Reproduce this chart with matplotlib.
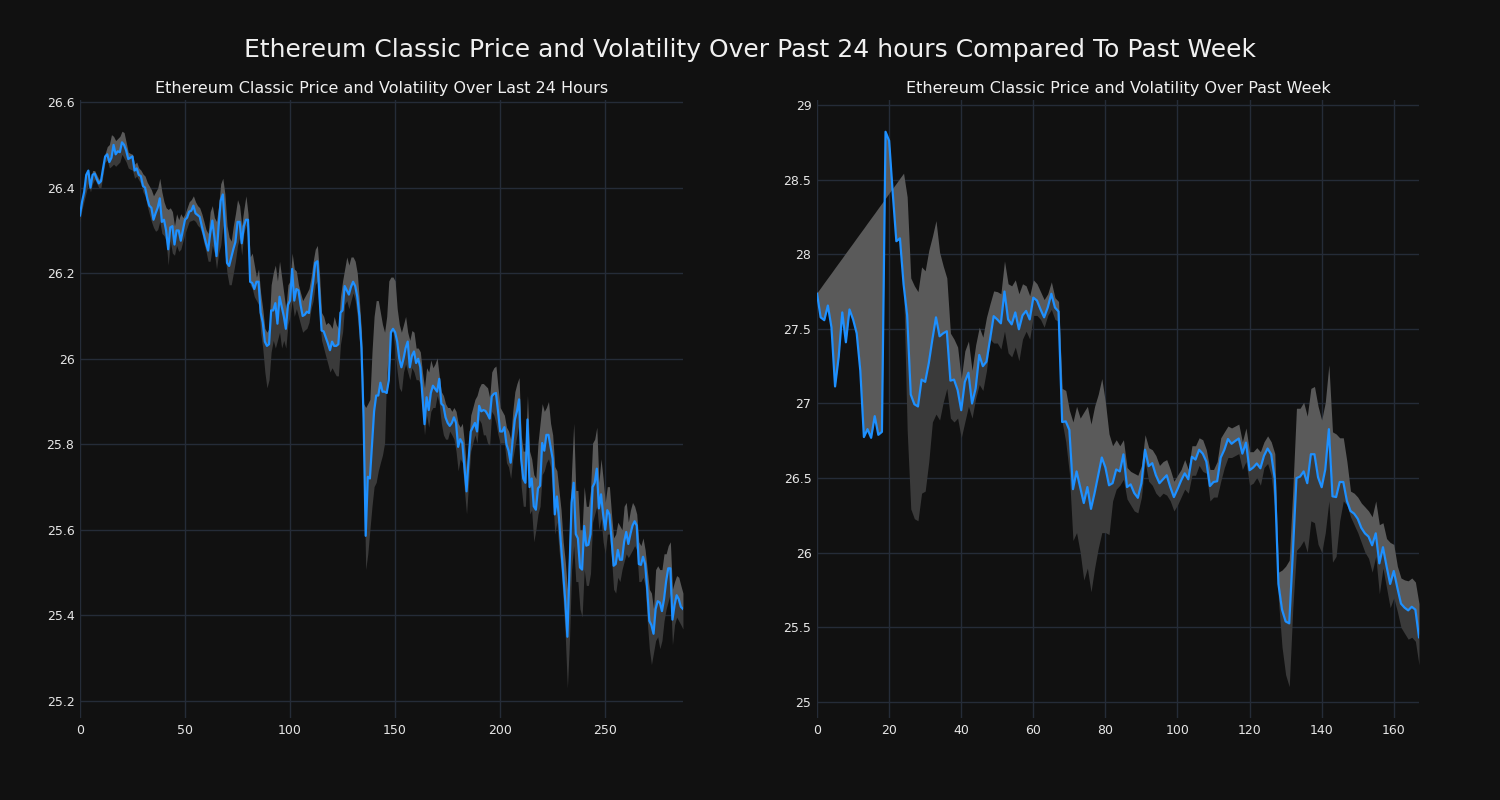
import numpy as np
import matplotlib
matplotlib.use('Agg')
import matplotlib.pyplot as plt
from matplotlib.ticker import FuncFormatter

# last 24 hours (5 min steps)
day_price = [
    26.335, 26.367, 26.39, 26.43, 26.44, 26.40, 26.43, 26.433, 26.42, 26.41,
    26.415, 26.445, 26.473, 26.478, 26.46, 26.47, 26.50, 26.478, 26.485, 26.483,
    26.506, 26.50, 26.487, 26.467, 26.47, 26.473, 26.44, 26.445, 26.43, 26.427,
    26.404, 26.40, 26.376, 26.358, 26.353, 26.325, 26.34, 26.353, 26.375, 26.32,
    26.325, 26.30, 26.256, 26.307, 26.31, 26.267, 26.30, 26.30, 26.276, 26.30,
    26.325, 26.33, 26.344, 26.346, 26.358, 26.34, 26.336, 26.332, 26.31, 26.29,
    26.27, 26.253, 26.293, 26.323, 26.284, 26.24, 26.31, 26.37, 26.384, 26.31,
    26.224, 26.217, 26.237, 26.256, 26.273, 26.32, 26.32, 26.27, 26.31, 26.325,
    26.325, 26.18, 26.177, 26.163, 26.18, 26.18, 26.108, 26.085, 26.04, 26.03,
    26.034, 26.113, 26.113, 26.13, 26.082, 26.145, 26.122, 26.10, 26.07, 26.126,
    26.136, 26.21, 26.136, 26.163, 26.16, 26.126, 26.10, 26.103, 26.11, 26.107,
    26.145, 26.18, 26.224, 26.228, 26.145, 26.066, 26.064, 26.05, 26.036, 26.02,
    26.04, 26.03, 26.03, 26.034, 26.108, 26.113, 26.17, 26.16, 26.15, 26.168,
    26.18, 26.17, 26.145, 26.10, 26.025, 25.86, 25.586, 25.724, 25.72, 25.80,
    25.877, 25.914, 25.914, 25.944, 25.923, 25.923, 25.92, 25.95, 26.062, 26.07,
    26.062, 26.04, 26.00, 25.98, 26.00, 26.025, 26.04, 25.98, 26.007, 26.017,
    25.99, 26.00, 25.98, 25.914, 25.847, 25.91, 25.88, 25.92, 25.937, 25.93,
    25.923, 25.953, 25.895, 25.89, 25.863, 25.85, 25.843, 25.85, 25.863, 25.85,
    25.794, 25.812, 25.803, 25.747, 25.69, 25.766, 25.83, 25.84, 25.85, 25.83,
    25.89, 25.877, 25.88, 25.878, 25.87, 25.86, 25.912, 25.918, 25.92, 25.877,
    25.83, 25.83, 25.84, 25.80, 25.785, 25.757, 25.812, 25.858, 25.877, 25.905,
    25.766, 25.72, 25.71, 25.858, 25.70, 25.72, 25.655, 25.647, 25.697, 25.703,
    25.803, 25.785, 25.822, 25.822, 25.794, 25.766, 25.636, 25.678, 25.627, 25.563,
    25.498, 25.433, 25.35, 25.507, 25.664, 25.71, 25.59, 25.58, 25.512, 25.507,
    25.609, 25.563, 25.565, 25.59, 25.70, 25.71, 25.743, 25.65, 25.683, 25.636,
    25.60, 25.646, 25.636, 25.58, 25.516, 25.52, 25.553, 25.53, 25.53, 25.572,
    25.595, 25.567, 25.59, 25.61, 25.62, 25.61, 25.52, 25.518, 25.537, 25.52,
    25.46, 25.387, 25.377, 25.357, 25.415, 25.433, 25.43, 25.41, 25.438, 25.48,
    25.51, 25.51, 25.39, 25.424, 25.447, 25.438, 25.42, 25.415,
]
day_upper = [
    26.34, 26.37, 26.39, 26.43, 26.44, 26.41, 26.44, 26.44, 26.43, 26.42,
    26.42, 26.45, 26.48, 26.496, 26.501, 26.524, 26.52, 26.51, 26.515, 26.52,
    26.532, 26.529, 26.506, 26.483, 26.48, 26.478, 26.455, 26.46, 26.446, 26.441,
    26.432, 26.427, 26.413, 26.404, 26.395, 26.381, 26.39, 26.399, 26.422, 26.39,
    26.367, 26.353, 26.349, 26.353, 26.344, 26.311, 26.339, 26.325, 26.339, 26.33,
    26.339, 26.353, 26.367, 26.372, 26.381, 26.367, 26.358, 26.353, 26.339, 26.321,
    26.302, 26.293, 26.344, 26.358, 26.33, 26.321, 26.358, 26.409, 26.422, 26.385,
    26.311, 26.284, 26.275, 26.311, 26.339, 26.372, 26.358, 26.311, 26.349, 26.381,
    26.339, 26.238, 26.247, 26.219, 26.191, 26.21, 26.154, 26.117, 26.071, 26.062,
    26.071, 26.173, 26.201, 26.219, 26.182, 26.228, 26.191, 26.154, 26.117, 26.173,
    26.182, 26.247, 26.21, 26.205, 26.173, 26.154, 26.136, 26.145, 26.154, 26.164,
    26.191, 26.228, 26.256, 26.265, 26.20, 26.108, 26.099, 26.08, 26.085, 26.08,
    26.071, 26.099, 26.08, 26.071, 26.145, 26.182, 26.21, 26.238, 26.219, 26.238,
    26.238, 26.228, 26.20, 26.136, 26.062, 25.895, 25.886, 25.895, 25.905, 26.016,
    26.099, 26.136, 26.136, 26.108, 26.08, 26.062, 26.099, 26.182, 26.191, 26.191,
    26.182, 26.117, 26.08, 26.062, 26.08, 26.099, 26.062, 26.043, 26.066, 26.062,
    26.025, 26.025, 26.016, 25.969, 25.932, 25.979, 25.969, 25.997, 25.979, 25.988,
    26.002, 25.96, 25.923, 25.914, 25.895, 25.886, 25.886, 25.877, 25.886, 25.877,
    25.849, 25.84, 25.849, 25.803, 25.738, 25.803, 25.868, 25.886, 25.905, 25.914,
    25.932, 25.942, 25.942, 25.937, 25.932, 25.909, 25.969, 25.979, 25.983, 25.932,
    25.886, 25.877, 25.868, 25.84, 25.831, 25.812, 25.877, 25.923, 25.942, 25.956,
    25.822, 25.784, 25.784, 25.914, 25.784, 25.766, 25.729, 25.72, 25.803, 25.849,
    25.895, 25.877, 25.886, 25.90, 25.849, 25.822, 25.748, 25.738, 25.692, 25.646,
    25.572, 25.526, 25.461, 25.60, 25.738, 25.849, 25.692, 25.692, 25.60, 25.60,
    25.701, 25.655, 25.655, 25.692, 25.803, 25.812, 25.84, 25.711, 25.766, 25.72,
    25.664, 25.701, 25.701, 25.637, 25.581, 25.59, 25.618, 25.609, 25.60, 25.655,
    25.664, 25.618, 25.646, 25.664, 25.655, 25.637, 25.572, 25.563, 25.581, 25.553,
    25.507, 25.461, 25.452, 25.415, 25.507, 25.516, 25.507, 25.507, 25.544, 25.544,
    25.563, 25.572, 25.461, 25.479, 25.493, 25.489, 25.47, 25.452,
]
day_lower = [
    26.32, 26.35, 26.37, 26.39, 26.41, 26.39, 26.41, 26.42, 26.41, 26.40,
    26.40, 26.43, 26.46, 26.464, 26.446, 26.45, 26.455, 26.45, 26.455, 26.46,
    26.478, 26.469, 26.46, 26.446, 26.443, 26.441, 26.422, 26.427, 26.418, 26.409,
    26.39, 26.381, 26.358, 26.339, 26.321, 26.307, 26.298, 26.302, 26.321, 26.293,
    26.288, 26.275, 26.219, 26.275, 26.247, 26.242, 26.265, 26.251, 26.256, 26.275,
    26.293, 26.307, 26.321, 26.323, 26.325, 26.321, 26.312, 26.307, 26.293, 26.27,
    26.251, 26.228, 26.228, 26.265, 26.247, 26.21, 26.247, 26.265, 26.312, 26.247,
    26.20, 26.173, 26.173, 26.20, 26.228, 26.265, 26.284, 26.242, 26.293, 26.312,
    26.275, 26.173, 26.164, 26.145, 26.136, 26.127, 26.062, 26.025, 25.969, 25.932,
    25.951, 26.016, 26.043, 26.025, 26.043, 26.062, 26.025, 26.043, 26.025, 26.08,
    26.099, 26.136, 26.099, 26.117, 26.099, 26.08, 26.062, 26.067, 26.071, 26.085,
    26.117, 26.136, 26.173, 26.182, 26.099, 26.043, 26.025, 26.006, 25.988, 25.969,
    25.979, 25.969, 25.96, 25.96, 26.034, 26.062, 26.127, 26.136, 26.117, 26.136,
    26.154, 26.136, 26.099, 26.043, 25.969, 25.784, 25.507, 25.544, 25.60, 25.655,
    25.701, 25.711, 25.738, 25.757, 25.775, 25.803, 25.969, 26.016, 26.062, 26.062,
    26.016, 25.969, 25.932, 25.923, 25.969, 25.988, 25.969, 25.951, 25.979, 25.969,
    25.951, 25.951, 25.942, 25.877, 25.822, 25.868, 25.84, 25.877, 25.886, 25.886,
    25.914, 25.895, 25.849, 25.822, 25.812, 25.812, 25.831, 25.822, 25.812, 25.784,
    25.738, 25.766, 25.757, 25.692, 25.637, 25.711, 25.784, 25.803, 25.822, 25.803,
    25.858, 25.849, 25.822, 25.822, 25.803, 25.798, 25.877, 25.868, 25.849, 25.822,
    25.803, 25.803, 25.803, 25.757, 25.747, 25.72, 25.766, 25.794, 25.822, 25.849,
    25.701, 25.655, 25.655, 25.784, 25.637, 25.646, 25.572, 25.60, 25.637, 25.655,
    25.729, 25.738, 25.757, 25.766, 25.747, 25.683, 25.59, 25.618, 25.553, 25.507,
    25.433, 25.35, 25.23, 25.341, 25.507, 25.563, 25.479, 25.479, 25.415, 25.396,
    25.507, 25.47, 25.47, 25.498, 25.618, 25.637, 25.655, 25.60, 25.627, 25.572,
    25.544, 25.59, 25.59, 25.535, 25.461, 25.452, 25.489, 25.479, 25.507, 25.526,
    25.544, 25.535, 25.544, 25.553, 25.563, 25.553, 25.479, 25.479, 25.489, 25.47,
    25.387, 25.322, 25.285, 25.313, 25.341, 25.35, 25.322, 25.341, 25.387, 25.415,
    25.433, 25.452, 25.331, 25.378, 25.396, 25.387, 25.378, 25.368,
]

# past week (hourly)
week_price = [
    27.735, 27.577, 27.558, 27.656, 27.51, 27.114, 27.312, 27.61, 27.41, 27.63,
    27.563, 27.47, 27.22, 26.775, 26.828, 26.77, 26.915, 26.79, 26.81, 28.82,
    28.76, 28.41, 28.087, 28.106, 27.80, 27.59, 27.06, 26.995, 26.98, 27.16,
    27.145, 27.27, 27.43, 27.577, 27.45, 27.47, 27.484, 27.153, 27.16, 27.09,
    26.955, 27.145, 27.206, 27.00, 27.10, 27.325, 27.25, 27.28, 27.43, 27.585,
    27.563, 27.537, 27.75, 27.563, 27.53, 27.61, 27.497, 27.59, 27.62, 27.563,
    27.709, 27.69, 27.63, 27.577, 27.643, 27.735, 27.643, 27.616, 26.876, 26.88,
    26.823, 26.426, 26.545, 26.44, 26.333, 26.44, 26.294, 26.40, 26.519, 26.638,
    26.571, 26.452, 26.466, 26.558, 26.545, 26.659, 26.44, 26.458, 26.40, 26.368,
    26.466, 26.69, 26.58, 26.60, 26.52, 26.466, 26.492, 26.519, 26.44, 26.373,
    26.426, 26.484, 26.532, 26.492, 26.643, 26.624, 26.69, 26.664, 26.611, 26.447,
    26.474, 26.479, 26.638, 26.69, 26.762, 26.73, 26.749, 26.765, 26.664, 26.738,
    26.553, 26.571, 26.598, 26.566, 26.65, 26.698, 26.659, 26.492, 25.791, 25.619,
    25.54, 25.527, 26.00, 26.50, 26.51, 26.545, 26.466, 26.66, 26.66, 26.505,
    26.439, 26.558, 26.828, 26.378, 26.373, 26.474, 26.474, 26.347, 26.28, 26.262,
    26.228, 26.167, 26.13, 26.108, 26.05, 26.13, 25.929, 26.037, 25.91, 25.791,
    25.878, 25.765, 25.659, 25.632, 25.614, 25.638, 25.619, 25.434,
]
week_upper = [
    27.743, 27.776, 27.81, 27.843, 27.876, 27.91, 27.943, 27.976, 28.01, 28.043,
    28.076, 28.11, 28.143, 28.176, 28.21, 28.243, 28.276, 28.31, 28.343, 28.376,
    28.41, 28.443, 28.476, 28.51, 28.543, 28.384, 27.841, 27.788, 27.749, 27.915,
    27.889, 28.026, 28.119, 28.225, 28.013, 27.921, 27.841, 27.471, 27.431, 27.378,
    27.167, 27.352, 27.418, 27.222, 27.392, 27.511, 27.444, 27.577, 27.669, 27.754,
    27.749, 27.735, 27.955, 27.802, 27.788, 27.828, 27.735, 27.802, 27.788, 27.722,
    27.828, 27.802, 27.749, 27.696, 27.735, 27.815, 27.709, 27.683, 27.101, 27.087,
    26.955, 26.876, 26.981, 26.902, 26.942, 26.981, 26.862, 26.981, 27.061, 27.167,
    27.008, 26.796, 26.717, 26.757, 26.717, 26.757, 26.571, 26.545, 26.532, 26.519,
    26.585, 26.791, 26.704, 26.69, 26.651, 26.585, 26.611, 26.624, 26.558, 26.479,
    26.519, 26.558, 26.624, 26.558, 26.717, 26.717, 26.77, 26.757, 26.69, 26.558,
    26.558, 26.611, 26.77, 26.81, 26.849, 26.836, 26.849, 26.862, 26.743, 26.836,
    26.677, 26.677, 26.704, 26.677, 26.743, 26.783, 26.743, 26.664, 25.87, 25.884,
    25.91, 25.95, 26.426, 26.968, 26.968, 27.008, 26.915, 27.101, 27.114, 26.981,
    26.889, 27.008, 27.259, 26.81, 26.796, 26.77, 26.77, 26.611, 26.413, 26.399,
    26.373, 26.333, 26.307, 26.28, 26.241, 26.347, 26.188, 26.201, 26.095, 26.069,
    26.056, 25.91, 25.831, 25.818, 25.812, 25.831, 25.804, 25.659,
]
week_lower = [
    27.735, 27.577, 27.558, 27.656, 27.51, 27.114, 27.312, 27.61, 27.41, 27.63,
    27.563, 27.47, 27.22, 26.775, 26.828, 26.77, 26.915, 26.79, 26.81, 28.82,
    28.76, 28.41, 28.087, 28.106, 27.80, 26.823, 26.294, 26.228, 26.214, 26.399,
    26.413, 26.611, 26.876, 26.929, 26.889, 27.008, 27.101, 26.902, 26.876, 26.902,
    26.77, 26.876, 26.981, 26.902, 27.034, 27.127, 27.087, 27.22, 27.431, 27.405,
    27.405, 27.365, 27.484, 27.339, 27.312, 27.378, 27.286, 27.431, 27.484, 27.431,
    27.59, 27.59, 27.563, 27.511, 27.59, 27.63, 27.563, 27.55, 26.876, 26.743,
    26.532, 26.082, 26.135, 26.003, 25.817, 25.897, 25.738, 25.897, 26.029, 26.135,
    26.135, 26.122, 26.347, 26.426, 26.452, 26.492, 26.36, 26.32, 26.28, 26.267,
    26.373, 26.611, 26.479, 26.452, 26.399, 26.373, 26.399, 26.386, 26.347, 26.28,
    26.32, 26.373, 26.426, 26.399, 26.519, 26.519, 26.585, 26.545, 26.532, 26.347,
    26.373, 26.373, 26.479, 26.571, 26.638, 26.638, 26.651, 26.664, 26.558, 26.611,
    26.452, 26.466, 26.505, 26.452, 26.571, 26.598, 26.519, 26.294, 25.685, 25.368,
    25.183, 25.103, 25.632, 26.016, 26.042, 26.082, 26.003, 26.214, 26.201, 26.056,
    26.003, 26.135, 26.347, 25.937, 25.976, 26.214, 26.347, 26.32, 26.241, 26.188,
    26.135, 26.069, 26.003, 25.963, 25.87, 25.976, 25.725, 25.897, 25.765, 25.632,
    25.698, 25.606, 25.50, 25.46, 25.421, 25.434, 25.407, 25.249,
]

BG = '#111111'
GRID = '#252c38'
LINE = '#1e90ff'
plt.rcParams['font.family'] = 'DejaVu Sans'

fig = plt.figure(figsize=(15, 8), dpi=100, facecolor=BG)
fig.suptitle('Ethereum Classic Price and Volatility Over Past 24 hours Compared To Past Week',
             color='#f0f0f0', fontsize=18, y=0.9375, va='center')

panels = [
    ([0.0533, 0.1025, 0.402, 0.7725], day_price, day_upper, day_lower,
     'Ethereum Classic Price and Volatility Over Last 24 Hours', (25.160, 26.605)),
    ([0.5447, 0.1025, 0.4013, 0.7725], week_price, week_upper, week_lower,
     'Ethereum Classic Price and Volatility Over Past Week', (24.893, 29.033)),
]
for rect, price, upper, lower, title, ylim in panels:
    ax = fig.add_axes(rect, facecolor=BG)
    x = np.arange(len(price))
    ax.fill_between(x, price, upper, color='#5a5a5a', lw=0, zorder=2)
    ax.fill_between(x, lower, price, color='#3a3a3a', lw=0, zorder=2)
    ax.plot(x, price, color=LINE, lw=1.6, zorder=3)
    ax.set_xlim(0, len(price) - 1)
    ax.set_ylim(*ylim)
    ax.set_title(title, color='#f0f0f0', fontsize=11.5, pad=5)
    ax.grid(True, color=GRID, lw=1)
    ax.set_axisbelow(True)
    for s in ax.spines.values():
        s.set_visible(False)
    ax.tick_params(colors='#e6e6e6', labelsize=9, length=0, pad=4)
    ax.yaxis.set_major_formatter(FuncFormatter(lambda v, _: f'{v:g}'))

fig.savefig('out.png', facecolor=BG)
